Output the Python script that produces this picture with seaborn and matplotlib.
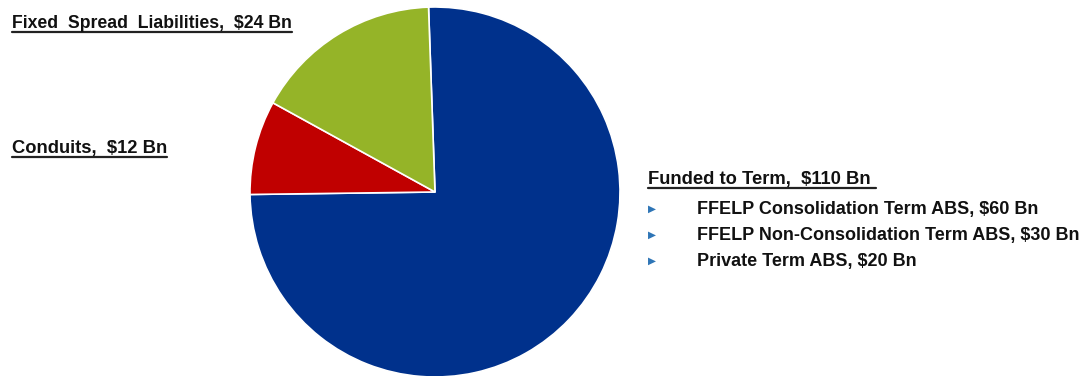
import matplotlib
matplotlib.use("Agg")
import matplotlib.pyplot as plt
from matplotlib.lines import Line2D
import seaborn as sns

# Funding mix, $ billions
segments = ["Funded to Term", "Conduits", "Fixed Spread Liabilities"]
amounts = [110, 12, 24]
segment_labels = ["Funded to Term,  $110 Bn ", "Conduits,  $12 Bn", "Fixed  Spread  Liabilities,  $24 Bn"]
term_items = ["FFELP Consolidation Term ABS, $60 Bn",
              "FFELP Non-Consolidation Term ABS, $30 Bn",
              "Private Term ABS, $20 Bn"]

sns.set_theme(style="white")
plt.rcParams["font.family"] = ["Liberation Sans", "DejaVu Sans"]

palette = ["#00318C", "#C00000", "#95B428"]

W, H = 1092, 376
fig = plt.figure(figsize=(W / 100, H / 100), dpi=100)
fig.patch.set_facecolor("white")

# pie centred at (435, 192) px with radius 185 px
cx, cy, r = 435, 192, 185
ax = fig.add_axes([(cx - r) / W, (H - cy - r) / H, 2 * r / W, 2 * r / H])
ax.pie(amounts, colors=palette, startangle=92, counterclock=False, radius=1,
       wedgeprops=dict(edgecolor="white", linewidth=1.2))
ax.set_xlim(-1, 1)
ax.set_ylim(-1, 1)
ax.set_aspect("equal")
ax.axis("off")

renderer = fig.canvas.get_renderer()


def underlined(x, y, s, size, ul_offset=4):
    t = fig.text(x / W, 1 - y / H, s, fontsize=size, fontweight="bold",
                 color="#111111", ha="left", va="baseline")
    bb = t.get_window_extent(renderer=renderer)
    yy = (H - y - ul_offset) / H
    fig.add_artist(Line2D([bb.x0 / W, bb.x1 / W], [yy, yy],
                          color="#222222", linewidth=1.6, transform=fig.transFigure))
    return t


underlined(12, 28, segment_labels[2], 12.7)
underlined(12, 153, segment_labels[1], 13.2)
underlined(648, 184, segment_labels[0], 13.2)

for i, item in enumerate(term_items):
    y = 209 + 26 * i
    fig.text(648 / W, 1 - y / H, "\u25B6", fontsize=7.5, color="#2E75B6",
             ha="left", va="center", family="DejaVu Sans")
    fig.text(697 / W, 1 - (y + 5) / H, item, fontsize=13, fontweight="bold",
             color="#111111", ha="left", va="baseline")

fig.savefig("out.png", dpi=100, facecolor="white")
